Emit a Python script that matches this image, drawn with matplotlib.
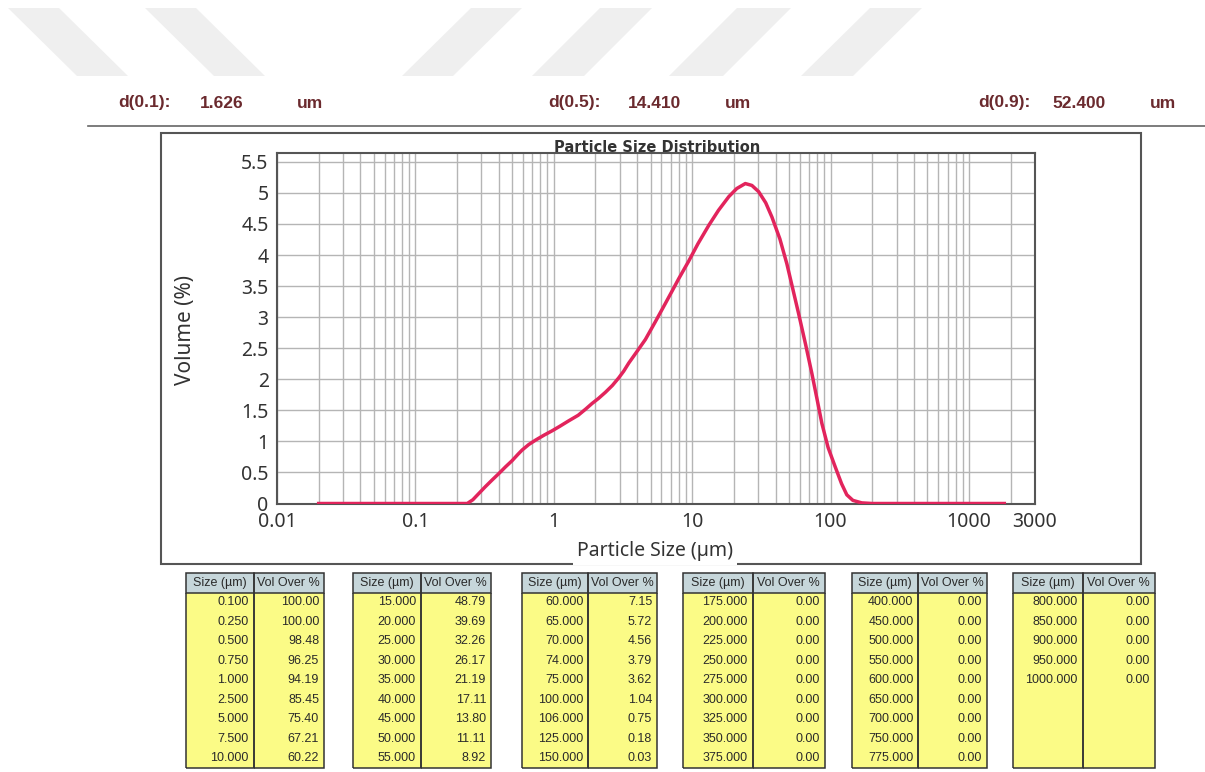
import matplotlib
matplotlib.use("Agg")
import matplotlib.pyplot as plt
from matplotlib.patches import Polygon, Rectangle
from matplotlib.lines import Line2D
from matplotlib.ticker import FixedLocator, LogLocator, NullFormatter

# Percentile diameters (um)
d_labels = ["d(0.1):", "d(0.5):", "d(0.9):"]
d_values = [1.626, 14.410, 52.400]

# Volume density curve
size_um = [0.02, 0.1, 0.237, 0.26, 0.287, 0.32, 0.359, 0.40, 0.448, 0.50,
           0.55, 0.59, 0.66, 0.738, 0.85, 0.972, 1.1, 1.28, 1.5, 1.7,
           1.89, 2.1, 2.36, 2.65, 2.94, 3.2, 3.48, 4.0, 4.59, 5.4,
           6.4, 7.2, 8.0, 9.43, 11, 13.2, 15.5, 18.4, 21, 24.2,
           27, 30.2, 34, 37.7, 43, 48.3, 53, 58.7, 66, 73.3,
           80, 86.5, 96, 108, 120, 131, 145, 168, 200, 500, 1800]
volume_pct = [0, 0, 0, 0.06, 0.16, 0.27, 0.38, 0.48, 0.59, 0.69,
              0.79, 0.86, 0.95, 1.02, 1.10, 1.17, 1.24, 1.33, 1.42, 1.52,
              1.61, 1.69, 1.79, 1.90, 2.02, 2.13, 2.26, 2.45, 2.64, 2.92,
              3.22, 3.43, 3.62, 3.90, 4.18, 4.48, 4.72, 4.94, 5.07, 5.15,
              5.12, 5.02, 4.84, 4.61, 4.26, 3.86, 3.48, 3.06, 2.56, 2.09,
              1.67, 1.29, 0.90, 0.59, 0.32, 0.14, 0.05, 0.01, 0, 0, 0]

# Cumulative "volume over" tables
tab_sizes = [
    [0.1, 0.25, 0.5, 0.75, 1.0, 2.5, 5.0, 7.5, 10.0],
    [15, 20, 25, 30, 35, 40, 45, 50, 55],
    [60, 65, 70, 74, 75, 100, 106, 125, 150],
    [175, 200, 225, 250, 275, 300, 325, 350, 375],
    [400, 450, 500, 550, 600, 650, 700, 750, 775],
    [800, 850, 900, 950, 1000],
]
tab_vol_over = [
    [100.00, 100.00, 98.48, 96.25, 94.19, 85.45, 75.40, 67.21, 60.22],
    [48.79, 39.69, 32.26, 26.17, 21.19, 17.11, 13.80, 11.11, 8.92],
    [7.15, 5.72, 4.56, 3.79, 3.62, 1.04, 0.75, 0.18, 0.03],
    [0.00] * 9,
    [0.00] * 9,
    [0.00] * 5,
]

W, H = 1205, 772
HEAD_COLOR = "#6b2a2e"
LINE_RED = "#e2245c"
GRID = "#b5b5b5"
FRAME = "#555555"
TXT = "#333333"
YELLOW = "#fbfb86"
HEADER_BLUE = "#c6d6da"

def fx(x):
    return x / W

def fy(y):
    return 1 - y / H

def box(x0, y0, x1, y1):
    return [fx(x0), fy(y1), fx(x1) - fx(x0), fy(y0) - fy(y1)]

fig = plt.figure(figsize=(W / 100, H / 100), dpi=100)
fig.patch.set_facecolor("white")

# faint diagonal stripes along the top edge
stripes = [
    [(8, 8), (59, 8), (128, 76), (77, 76)],
    [(145, 8), (196, 8), (265, 76), (214, 76)],
    [(471, 8), (522, 8), (453, 76), (402, 76)],
    [(600, 8), (652, 8), (584, 76), (532, 76)],
    [(737, 8), (791, 8), (723, 76), (669, 76)],
    [(870, 8), (922, 8), (853, 76), (801, 76)],
]
for pts in stripes:
    fig.patches.append(Polygon([(fx(x), fy(y)) for x, y in pts], closed=True,
                               transform=fig.transFigure, facecolor="#efefef",
                               edgecolor="none", zorder=0))

# header with percentiles
head_x = [(118, 200, 297), (548, 628, 725), (978, 1052, 1150)]
for (xl, xv, xu), lab, val in zip(head_x, d_labels, d_values):
    for x, s in [(xl, lab), (xv, f"{val:.3f}"), (xu, "um")]:
        fig.text(fx(x), fy(103), s, ha="left", va="center", fontsize=12.5,
                 fontweight="bold", color=HEAD_COLOR, family="Liberation Sans")
fig.lines.append(Line2D([fx(88), fx(1205)], [fy(126), fy(126)],
                        transform=fig.transFigure, color="#666666", lw=1.2))

# outer chart frame
fig.patches.append(Rectangle((fx(161), fy(564)), fx(1141) - fx(161), fy(133) - fy(564),
                             transform=fig.transFigure, fill=False,
                             edgecolor=FRAME, lw=1.5, zorder=1))

ax = fig.add_axes(box(277, 152.5, 1035, 503.5))
ax.plot(size_um, volume_pct, color=LINE_RED, lw=2.5, solid_joinstyle="round", zorder=3)
ax.set_xscale("log")
ax.set_xlim(0.01, 3000)
ax.set_ylim(0, 5.65)

xt = [0.01, 0.1, 1, 10, 100, 1000, 3000]
ax.xaxis.set_major_locator(FixedLocator(xt))
ax.set_xticklabels(["0.01", "0.1", "1", "10", "100", "1000", "3000"])
ax.xaxis.set_minor_locator(LogLocator(base=10, subs=range(2, 10), numticks=20))
ax.xaxis.set_minor_formatter(NullFormatter())
yt = [i * 0.5 for i in range(12)]
ax.set_yticks(yt)
ax.set_yticklabels([f"{v:g}" for v in yt])
ax.tick_params(which="both", length=0, labelsize=14, colors=TXT, pad=6)
for lab in ax.get_xticklabels() + ax.get_yticklabels():
    lab.set_family("Noto Sans")
ax.grid(True, which="both", axis="x", color=GRID, lw=1.0)
ax.grid(True, which="major", axis="y", color=GRID, lw=1.0)
for sp in ax.spines.values():
    sp.set_color(FRAME)
    sp.set_linewidth(1.5)

fig.text(fx(657), fy(148), "Particle Size Distribution", ha="center", va="center",
         fontsize=10.5, fontweight="bold", color=TXT, family="DejaVu Sans")
fig.text(fx(185), fy(330), "Volume (%)", rotation=90, ha="center", va="center",
         fontsize=15, color=TXT, family="Noto Sans")
fig.text(fx(655), fy(551), "Particle Size (µm)", ha="center", va="center",
         fontsize=14, color=TXT, family="Noto Sans", zorder=5,
         bbox=dict(facecolor="white", edgecolor="none", pad=3))

# size / volume-over tables
tab_x = [(186, 324), (353, 491), (522, 657), (683, 825), (852, 987), (1013, 1155)]
for (x0, x1), sizes, vols in zip(tab_x, tab_sizes, tab_vol_over):
    tax = fig.add_axes(box(x0, 573, x1, 768))
    tax.axis("off")
    tax.set_xlim(0, 1)
    tax.set_ylim(0, 1)
    tax.add_patch(Rectangle((0, 0.9), 1, 0.1, facecolor=HEADER_BLUE, edgecolor="none", zorder=0))
    tax.add_patch(Rectangle((0, 0), 1, 0.9, facecolor=YELLOW, edgecolor="none", zorder=0))
    rows = [[f"{s:.3f}", f"{v:.2f}"] for s, v in zip(sizes, vols)]
    rows += [["", ""]] * (9 - len(rows))
    tab = tax.table(cellText=rows, colLabels=["Size (µm)", "Vol Over %"],
                    cellLoc="right", colLoc="center", bbox=[0, 0, 1, 1],
                    colWidths=[0.49, 0.51])
    tab.set_zorder(2)
    tab.auto_set_font_size(False)
    tab.set_fontsize(9)
    for (r, c), cell in tab.get_celld().items():
        cell.set_edgecolor("#333333")
        cell.set_facecolor("none")
        cell.set_linewidth(1.1)
        cell.PAD = 0.07
        cell.get_text().set_color("#2a2a2a")
        cell.get_text().set_family(["Liberation Sans Narrow", "Liberation Sans"])
        if r == 0:
            cell.visible_edges = "closed"
        else:
            cell.visible_edges = "LRB" if r == 9 else "LR"

fig.savefig("out.png", dpi=100)
